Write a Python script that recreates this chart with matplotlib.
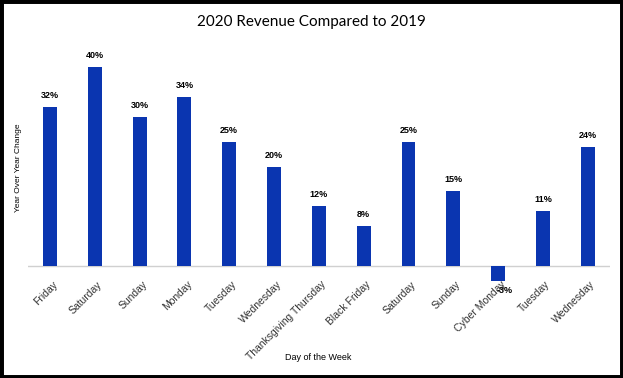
import matplotlib
matplotlib.use('Agg')
import matplotlib.pyplot as plt
import matplotlib.patches as patches

# data
days = ['Friday', 'Saturday', 'Sunday', 'Monday', 'Tuesday', 'Wednesday',
        'Thanksgiving Thursday', 'Black Friday', 'Saturday', 'Sunday',
        'Cyber Monday', 'Tuesday', 'Wednesday']
yoy = [32, 40, 30, 34, 25, 20, 12, 8, 25, 15, -3, 11, 24]

fig = plt.figure(figsize=(6.23, 3.78), dpi=100)
ax = fig.add_axes([0.0443, 0.243, 0.935, 0.633])

x = list(range(len(days)))
bars = ax.bar(x, yoy, width=0.31, color='#0a35b0', zorder=3)

for xi, v in zip(x, yoy):
    if v >= 0:
        ax.text(xi, v + 1.4, '{}%'.format(v), ha='center', va='bottom',
                fontsize=6.5, weight='bold', family='Liberation Sans')
    else:
        ax.text(xi + 0.15, v - 1.0, '{}%'.format(v), ha='center', va='top',
                fontsize=6.5, weight='bold', family='Liberation Sans')

ax.axhline(0, color='#d0d0d0', linewidth=1, zorder=2)
ax.set_xlim(-0.5, len(days) - 0.5)
ax.set_ylim(-4, 44)

ax.set_xticks([xi + 0.05 for xi in x])
ax.set_xticklabels(days, rotation=45, ha='right', va='top', rotation_mode='anchor',
                   fontsize=7.5, family='Liberation Sans', color='#333333')
ax.tick_params(axis='x', length=0, pad=-5)
ax.set_yticks([])
for s in ax.spines.values():
    s.set_visible(False)

fig.text(0.029, 0.555, 'Year Over Year Change', rotation=90, ha='center',
         va='center', fontsize=6, family='Liberation Sans')
fig.text(0.51, 0.055, 'Day of the Week', ha='center', va='center',
         fontsize=6.5, family='Liberation Sans')
fig.text(0.5, 0.942, '2020 Revenue Compared to 2019', ha='center',
         va='center', fontsize=11, family='Lato')

# black border round the chart
fig.patches.append(patches.Rectangle((0, 0), 1, 1, transform=fig.transFigure,
                                     fill=False, edgecolor='black',
                                     linewidth=5, zorder=10))

fig.savefig('out.png', dpi=100)
